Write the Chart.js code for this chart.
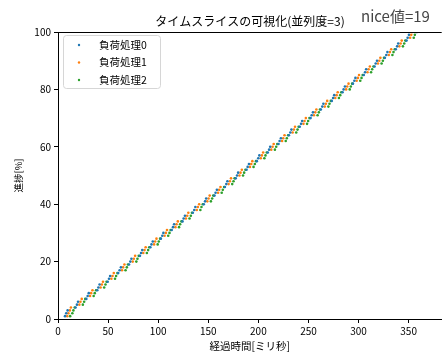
<!DOCTYPE html>
<html>
<head>
<meta charset="utf-8">
<script src="https://cdn.jsdelivr.net/npm/chart.js"></script>
<style>
  html, body { margin: 0; padding: 0; background: #fff; overflow: hidden; }
</style>
</head>
<body>
<canvas id="chart" width="443" height="353"></canvas>
<script>
const chartTitle = "タイムスライスの可視化(並列度=3)";
const niceLabel = "nice値=19";
const xTitle = "経過時間[ミリ秒]";
const yTitle = "進捗[%]";
const seriesNames = ["負荷処理0", "負荷処理1", "負荷処理2"];
const seriesColors = ["#1f77b4", "#ff7f0e", "#2ca02c"];
const xTicks = [0, 50, 100, 150, 200, 250, 300, 350];
const yTicks = [0, 20, 40, 60, 80, 100];

// progress [%] shared by the three processes
const progress = [
  1, 2, 3, 4, 5, 6, 7, 8, 9, 10, 11, 12, 13, 14, 15, 16, 17, 18, 19, 20,
  21, 22, 23, 24, 25, 26, 27, 28, 29, 30, 31, 32, 33, 34, 35, 36, 37, 38, 39, 40,
  41, 42, 43, 44, 45, 46, 47, 48, 49, 50, 51, 52, 53, 54, 55, 56, 57, 58, 59, 60,
  61, 62, 63, 64, 65, 66, 67, 68, 69, 70, 71, 72, 73, 74, 75, 76, 77, 78, 79, 80,
  81, 82, 83, 84, 85, 86, 87, 88, 89, 90, 91, 92, 93, 94, 95, 96, 97, 98, 99, 100
];

// elapsed time [ms] at each progress step
const time0 = [
  7.0, 8.2, 9.6, 17.5, 18.9, 20.0, 28.3, 29.6, 30.7, 39.2, 40.3, 41.5, 49.6, 50.9, 52.0,
  60.1, 61.5, 62.8, 70.9, 72.2, 73.3, 81.8, 82.9, 84.1, 92.2, 93.3, 94.6, 102.7, 104.1, 105.2,
  113.5, 114.8, 115.9, 124.3, 125.4, 126.7, 134.6, 136.0, 137.1, 145.5, 146.8, 147.9,
  156.2, 157.3, 158.6, 166.6, 168.0, 169.1, 177.4, 178.7, 179.8, 188.2, 189.3, 190.6,
  198.5, 199.9, 201.0, 209.4, 210.7, 211.8, 220.1, 221.2, 222.5, 230.5, 231.9, 233.0,
  241.3, 242.6, 243.7, 252.1, 253.2, 254.5, 262.4, 263.8, 264.9, 273.3, 274.6, 275.7,
  284.0, 285.1, 286.4, 294.4, 295.8, 296.9, 305.2, 306.5, 307.6, 316.0, 317.1, 318.4,
  326.3, 327.7, 328.8, 337.2, 338.5, 339.6, 347.9, 349.0, 350.3, 358.4
];
const time1 = [
  9.2, 10.4, 11.8, 12.9, 21.3, 22.4, 23.7, 32.0, 33.1, 34.4, 42.5, 43.8, 44.9, 53.3, 54.4, 55.7,
  63.9, 65.0, 66.3, 74.6, 75.7, 77.0, 85.1, 86.4, 87.5, 95.9, 97.0, 98.3, 106.4, 107.7, 108.8,
  117.2, 118.3, 119.6, 127.7, 129.0, 130.1, 138.5, 139.6, 140.9, 149.0, 150.3, 151.4,
  159.8, 160.9, 162.2, 170.3, 171.6, 172.7, 181.1, 182.2, 183.5, 191.6, 192.9, 194.0,
  202.4, 203.5, 204.8, 212.9, 214.2, 215.3, 223.7, 224.8, 226.1, 234.2, 235.5, 236.6,
  245.0, 246.1, 247.4, 255.5, 256.8, 257.9, 266.3, 267.4, 268.7, 276.8, 278.1, 279.2,
  287.6, 288.7, 290.0, 298.1, 299.4, 300.5, 308.9, 310.0, 311.3, 319.4, 320.7, 321.8,
  330.2, 331.3, 332.6, 340.7, 342.0, 343.1, 351.5, 352.6, 353.9
];
const time2 = [
  12.1, 14.3, 15.4, 16.7, 24.8, 26.1, 27.2, 35.6, 36.7, 38.0, 46.1, 47.4, 48.5, 56.9, 58.0, 59.3,
  67.4, 68.7, 69.8, 78.2, 79.3, 80.6, 88.7, 90.0, 91.1, 99.5, 100.6, 101.9, 110.0, 111.3, 112.4,
  120.8, 121.9, 123.2, 131.3, 132.6, 133.7, 142.1, 143.2, 144.5, 152.6, 153.9, 155.0,
  163.4, 164.5, 165.8, 173.9, 175.2, 176.3, 184.7, 185.8, 187.1, 195.2, 196.5, 197.6,
  206.0, 207.1, 208.4, 216.5, 217.8, 218.9, 227.3, 228.4, 229.7, 237.8, 239.1, 240.2,
  248.6, 249.7, 251.0, 259.1, 260.4, 261.5, 269.9, 271.0, 272.3, 280.4, 281.7, 282.8,
  291.2, 292.3, 293.6, 301.7, 303.0, 304.1, 312.5, 313.6, 314.9, 323.0, 324.3, 325.4,
  333.8, 334.9, 336.2, 344.3, 345.6, 346.7, 355.1, 356.2, 357.5
];

const jp = '"Noto Sans CJK JP", "Noto Sans", sans-serif';
const times = [time0, time1, time2];

const datasets = times.map((t, i) => ({
  label: seriesNames[i],
  data: t.map((x, k) => ({ x: x, y: progress[k] })),
  backgroundColor: seriesColors[i],
  borderWidth: 0,
  pointRadius: 1.3,
  pointHoverRadius: 1.3,
  showLine: false,
}));

// title, top spine and legend box, drawn like matplotlib does
const extras = {
  id: "extras",
  afterDraw(chart) {
    const ctx = chart.ctx;
    const a = chart.chartArea;
    ctx.save();
    ctx.strokeStyle = "#000";
    ctx.lineWidth = 1;
    ctx.beginPath();
    ctx.moveTo(a.left, a.top + 0.5);
    ctx.lineTo(a.right, a.top + 0.5);
    ctx.stroke();

    ctx.fillStyle = "#000";
    ctx.font = "12px " + jp;
    ctx.textAlign = "center";
    ctx.textBaseline = "middle";
    ctx.fillText(chartTitle, 250, 21);

    ctx.fillStyle = "#444";
    ctx.font = "15px " + jp;
    ctx.textAlign = "left";
    ctx.fillText(niceLabel, 361, 16);

    // legend
    const bx = 63.5, by = 35.5, bw = 97, bh = 53, r = 3;
    ctx.beginPath();
    ctx.moveTo(bx + r, by);
    ctx.lineTo(bx + bw - r, by);
    ctx.quadraticCurveTo(bx + bw, by, bx + bw, by + r);
    ctx.lineTo(bx + bw, by + bh - r);
    ctx.quadraticCurveTo(bx + bw, by + bh, bx + bw - r, by + bh);
    ctx.lineTo(bx + r, by + bh);
    ctx.quadraticCurveTo(bx, by + bh, bx, by + bh - r);
    ctx.lineTo(bx, by + r);
    ctx.quadraticCurveTo(bx, by, bx + r, by);
    ctx.closePath();
    ctx.fillStyle = "rgba(255,255,255,0.8)";
    ctx.fill();
    ctx.strokeStyle = "#d6d6d6";
    ctx.stroke();

    ctx.font = "10.5px " + jp;
    ctx.textAlign = "left";
    ctx.textBaseline = "middle";
    chart.data.datasets.forEach((ds, i) => {
      const y = 45 + i * 17.5;
      ctx.fillStyle = ds.backgroundColor;
      ctx.beginPath();
      ctx.arc(79, y, 1.2, 0, Math.PI * 2);
      ctx.fill();
      ctx.fillStyle = "#000";
      ctx.fillText(ds.label, 99, y);
    });
    ctx.restore();
  },
};

new Chart(document.getElementById("chart"), {
  type: "scatter",
  data: { datasets: datasets },
  options: {
    responsive: false,
    animation: false,
    devicePixelRatio: 1,
    layout: { padding: { top: 32, right: 0, left: 0, bottom: 0 } },
    plugins: {
      legend: { display: false },
      title: { display: false },
      tooltip: { enabled: false },
    },
    scales: {
      x: {
        type: "linear",
        min: 0,
        max: 383,
        afterBuildTicks: (s) => { s.ticks = xTicks.map((v) => ({ value: v })); },
        afterFit: (s) => { s.height = 34; },
        grid: { drawOnChartArea: false, drawTicks: true, tickLength: 4, tickColor: "#000" },
        border: { display: true, color: "#000", width: 1 },
        ticks: { color: "#000", padding: 2, maxRotation: 0, font: { family: jp, size: 10 } },
        title: { display: true, text: xTitle, color: "#000", padding: { top: 0, bottom: 1 }, font: { family: jp, size: 10.5 } },
      },
      y: {
        min: 0,
        max: 100,
        afterBuildTicks: (s) => { s.ticks = yTicks.map((v) => ({ value: v })); },
        afterFit: (s) => { s.width = 58; },
        grid: { drawOnChartArea: false, drawTicks: true, tickLength: 4, tickColor: "#000" },
        border: { display: true, color: "#000", width: 1 },
        ticks: { color: "#000", padding: 3, font: { family: jp, size: 10 } },
        title: { display: true, text: yTitle, color: "#000", padding: { top: 13, bottom: 0 }, font: { family: jp, size: 9.5 } },
      },
    },
  },
  plugins: [extras],
});
</script>
</body>
</html>
